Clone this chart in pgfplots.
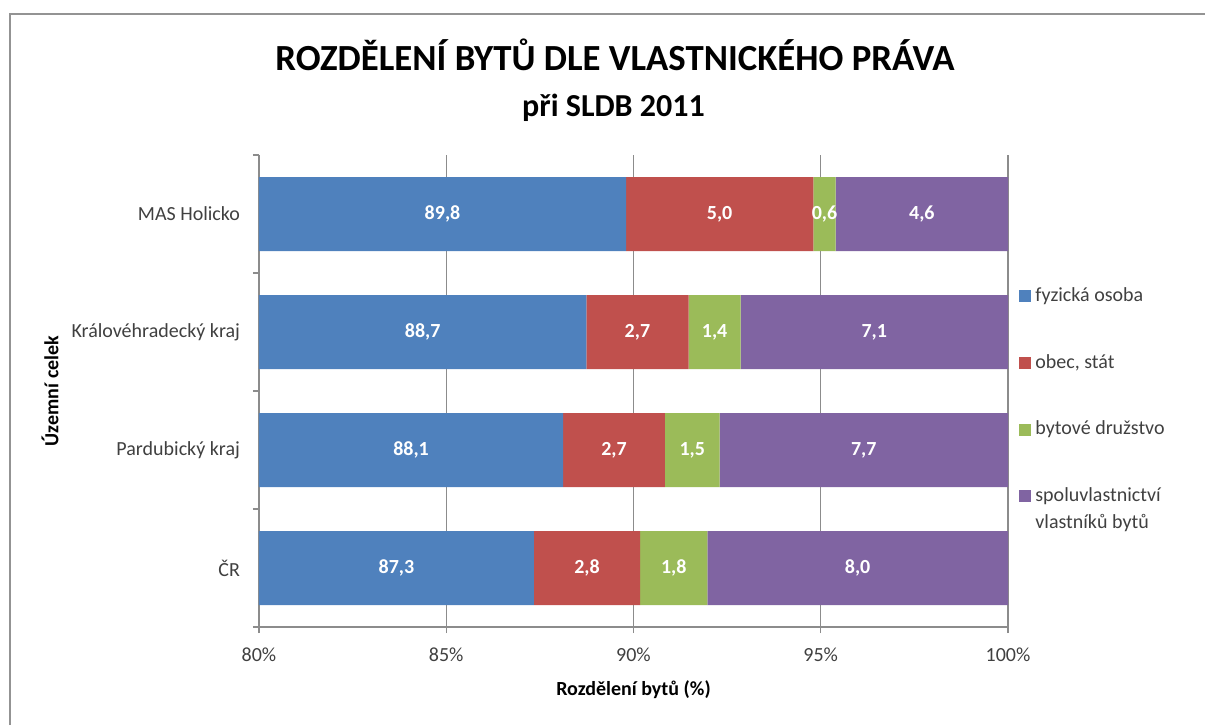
\documentclass[border=0pt]{standalone}
\usepackage{pgfplots}
\pgfplotsset{compat=1.18}
\usepackage{fontspec}
\setmainfont{Carlito}

\definecolor{cBlue}{HTML}{4F81BD}
\definecolor{cRed}{HTML}{C0504D}
\definecolor{cGreen}{HTML}{9BBB59}
\definecolor{cPurple}{HTML}{8064A2}
\definecolor{txt}{HTML}{404040}
\definecolor{gridc}{HTML}{8C8C8C}

% Share of dwellings by ownership, SLDB 2011 (%)
% rows: CR, Pardubicky kraj, Kralovehradecky kraj, MAS Holicko
\pgfplotstableread{
pos fyz   obec  druz  spol
0   87.34 2.84  1.79  8.03
1   88.12 2.72  1.46  7.70
2   88.74 2.73  1.39  7.14
3   89.80 5.00  0.60  4.60
}\vlastnictvi

% one x unit of the axis is 374.5pt/20 = 18.725pt
\def\xunit{18.725pt}

\begin{document}
\begin{tikzpicture}
\useasboundingbox (-129.5pt,-49pt) rectangle (473pt,313.5pt);
% chart frame
\draw[color=gray!85, line width=1.2pt] (-124.5pt,-49pt) -- (-124.5pt,306.5pt) -- (473pt,306.5pt);
\begin{axis}[
  scale only axis, width=374.5pt, height=236pt,
  xbar stacked, bar width=37pt,
  xmin=80, xmax=100, ymin=-0.5, ymax=3.5,
  axis lines*=left,
  axis line style={draw=gridc, line width=0.6pt},
  tick align=outside, major tick length=3pt,
  tick style={draw=gridc, line width=0.6pt},
  xtick={80,85,90,95,100},
  xticklabel={\pgfmathprintnumber{\tick}\%},
  xmajorgrids, grid style={draw=gridc, line width=0.6pt},
  ytick={-0.5,0.5,1.5,2.5,3.5}, yticklabels={,,,,},
  extra y ticks={0,1,2,3},
  extra y tick labels={ČR,Pardubický kraj,Královéhradecký kraj,MAS Holicko},
  extra y tick style={major tick length=0pt, yticklabel style={xshift=-6pt}},
  /pgf/number format/assume math mode=true,
  ticklabel style={font=\color{txt}},
  xticklabel style={yshift=-4pt},
  xlabel={\bfseries Rozdělení bytů (\%)},
  ylabel={\bfseries Územní celek},
  xlabel style={at={(axis description cs:0.5,-0.1335)}, anchor=center},
  ylabel style={at={(axis description cs:-0.279,0.5)}, anchor=center},
  point meta=rawx,
  nodes near coords={\pgfmathprintnumber[fixed,fixed zerofill,precision=1,use comma]{\pgfplotspointmeta}},
  every node near coord/.append style={font=\bfseries, color=white, anchor=center},
  legend style={draw=none, fill=none, at={(axis description cs:1.0147,0.729)},
     anchor=north west, row sep=21pt, inner sep=0pt, font=\color{txt}},
  legend cell align=left,
  legend image code/.code={\draw[#1,draw=none] (0pt,-3pt) rectangle (6pt,3pt);},
]
% the visible part of the first segment starts at xmin=80
\addplot[fill=cBlue, draw=none,
  every node near coord/.append style={xshift=40*\xunit}]
  table[x=fyz, y=pos] {\vlastnictvi};
\addplot[fill=cRed, draw=none] table[x=obec, y=pos] {\vlastnictvi};
\addplot[fill=cGreen, draw=none] table[x=druz, y=pos] {\vlastnictvi};
\addplot[fill=cPurple, draw=none] table[x=spol, y=pos] {\vlastnictvi};
\addlegendentry{fyzická osoba}
\addlegendentry{obec, stát}
\addlegendentry{bytové družstvo}
\addlegendentry{\vtop{\baselineskip=13.5pt\hbox{spoluvlastnictví}\hbox{vlastníků bytů}}}
\end{axis}
\node[anchor=base, font=\bfseries\fontsize{18.4}{22}\selectfont] at (178pt,278.5pt)
  {ROZDĚLENÍ BYTŮ DLE VLASTNICKÉHO PRÁVA};
\node[anchor=base, font=\bfseries\fontsize{16}{19}\selectfont] at (177.25pt,255.5pt)
  {při SLDB 2011};
\end{tikzpicture}
\end{document}
